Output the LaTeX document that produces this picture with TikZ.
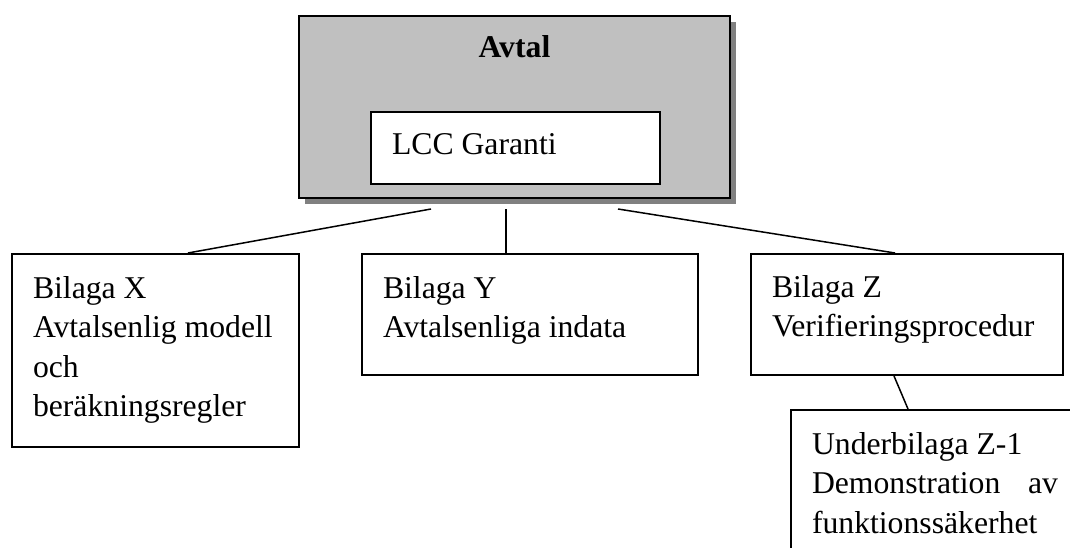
\documentclass[tikz,border=0pt]{standalone}
\usepackage{fontspec}
\setmainfont{Liberation Serif}
\usetikzlibrary{shadows,calc}
\definecolor{avtalfill}{HTML}{C0C0C0}
\definecolor{avtalshade}{HTML}{808080}
\newcommand{\docfont}{\fontsize{31.7pt}{39.5pt}\selectfont}
% top-aligned text block: #1 width, #2 height, #3 drop of first baseline, #4 text
\newcommand{\boxtext}[4]{\parbox[t][#2][t]{#1}{\rule{0pt}{#3}#4}}
\begin{document}
\begin{tikzpicture}[x=1pt,y=-1pt,
  textbox/.style={draw=black, line width=2pt, fill=white, inner xsep=21pt,
    inner ysep=0pt, anchor=north west, font=\docfont},
  avtalbox/.style={draw=black, line width=2pt, fill=avtalfill, inner sep=0pt,
    anchor=north west, font=\docfont,
    drop shadow={shadow xshift=6pt, shadow yshift=-6pt, fill=avtalshade, opacity=1}},
  link/.style={draw=black, line width=1.5pt}]
\useasboundingbox (0,0) rectangle (1070,548);
\clip (0,0) rectangle (1070,548);

% main contract with the guarantee inside
\node[avtalbox] (avtal) at (298,15)
  {\parbox[t][182pt][t]{431pt}{\centering\rule{0pt}{42pt}\textbf{Avtal}}};
\node[textbox] (lcc) at (370,111) {\boxtext{247pt}{72pt}{43pt}{LCC Garanti}};

% appendices
\node[textbox] (bx) at (11,253)
  {\boxtext{245pt}{193pt}{44pt}{Bilaga X\\Avtalsenlig modell\\och\\beräkningsregler}};
\node[textbox] (by) at (361,253)
  {\boxtext{294pt}{121pt}{44pt}{Bilaga Y\\Avtalsenliga indata}};
\node[textbox] (bz) at (750,253)
  {\boxtext{270pt}{121pt}{43pt}{Bilaga Z\\Verifieringsprocedur}};
\node[textbox] (bz1) at (790,409)
  {\boxtext{246pt}{170pt}{44pt}{Underbilaga Z-1\\Demonstration\hfill av\\funktionssäkerhet}};

% connectors start just below the shadowed contract box
\coordinate (tx) at ($(avtal.south west)+(133pt,-10pt)$);
\coordinate (ty) at ($(avtal.south west)+(208pt,-10pt)$);
\coordinate (tz) at ($(avtal.south west)+(320pt,-10pt)$);
\draw[link] (tx) -- ($(bx.north west)+(177pt,0pt)$);
\draw[link] (ty) -- (ty |- by.north);
\draw[link] (tz) -- ($(bz.north west)+(145pt,0pt)$);
\draw[link] ($(bz.south west)+(144pt,0pt)$) -- ($(bz1.north west)+(118pt,0pt)$);
\end{tikzpicture}
\end{document}
